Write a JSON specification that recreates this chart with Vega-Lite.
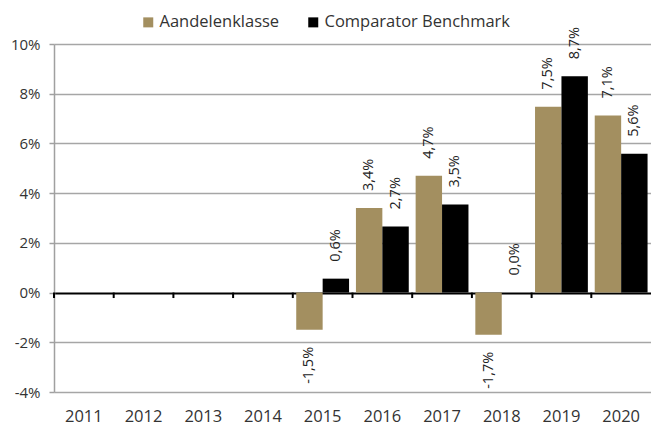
{
  "$schema": "https://vega.github.io/schema/vega-lite/v6.json",
  "width": 597,
  "height": 348,
  "autosize": {"type": "none"},
  "padding": {"left": 54, "top": 44, "right": 0, "bottom": 35},
  "config": {
    "locale": {"number": {"decimal": ",", "thousands": ".", "grouping": [3], "currency": ["€", ""], "minus": "-"}},
    "font": "Open Sans",
    "view": {"stroke": null}
  },
  "data": {
    "values": [
      {"year": "2015", "series": "Aandelenklasse", "value": -0.015},
      {"year": "2015", "series": "Comparator Benchmark", "value": 0.0056},
      {"year": "2016", "series": "Aandelenklasse", "value": 0.034},
      {"year": "2016", "series": "Comparator Benchmark", "value": 0.0266},
      {"year": "2017", "series": "Aandelenklasse", "value": 0.047},
      {"year": "2017", "series": "Comparator Benchmark", "value": 0.0354},
      {"year": "2018", "series": "Aandelenklasse", "value": -0.017},
      {"year": "2018", "series": "Comparator Benchmark", "value": 0.0},
      {"year": "2019", "series": "Aandelenklasse", "value": 0.0748},
      {"year": "2019", "series": "Comparator Benchmark", "value": 0.087},
      {"year": "2020", "series": "Aandelenklasse", "value": 0.0712},
      {"year": "2020", "series": "Comparator Benchmark", "value": 0.0558}
    ]
  },
  "encoding": {
    "x": {
      "field": "year",
      "type": "nominal",
      "scale": {
        "domain": ["2011", "2012", "2013", "2014", "2015", "2016", "2017", "2018", "2019", "2020"],
        "paddingInner": 0,
        "paddingOuter": 0
      },
      "axis": {
        "title": null,
        "labelAngle": 0,
        "domain": false,
        "ticks": false,
        "labelPadding": 16,
        "labelFontSize": 16.5,
        "labelColor": "#333333",
        "grid": false
      }
    }
  },
  "layer": [
    {
      "mark": {"type": "bar"},
      "encoding": {
        "xOffset": {
          "field": "series",
          "type": "nominal",
          "scale": {"paddingInner": 0, "paddingOuter": 0.13}
        },
        "y": {
          "field": "value",
          "type": "quantitative",
          "scale": {"domain": [-0.04, 0.1], "nice": false, "zero": false},
          "axis": {
            "title": null,
            "values": [-0.04, -0.02, 0, 0.02, 0.04, 0.06, 0.08, 0.1],
            "format": ".0%",
            "labelFontSize": 15,
            "labelColor": "#333333",
            "labelPadding": 9,
            "tickSize": 5,
            "tickColor": "#a0a0a0",
            "tickWidth": 1.5,
            "domainColor": "#a0a0a0",
            "domainWidth": 1.5,
            "grid": true,
            "gridColor": {"condition": {"test": "datum.value === 0", "value": "#000000"}, "value": "#a6a6a6"},
            "gridWidth": {"condition": {"test": "datum.value === 0", "value": 2}, "value": 1.5}
          }
        },
        "color": {
          "field": "series",
          "type": "nominal",
          "scale": {"domain": ["Aandelenklasse", "Comparator Benchmark"], "range": ["#a38f60", "#000000"]},
          "legend": {
            "title": null,
            "orient": "none",
            "direction": "horizontal",
            "legendX": 86,
            "legendY": -30,
            "symbolType": "square",
            "symbolSize": 100,
            "symbolStrokeWidth": 0,
            "labelFontSize": 16.5,
            "labelLimit": 0,
            "labelColor": "#333333",
            "labelOffset": 3,
            "columnPadding": 25
          }
        }
      }
    },
    {
      "data": {"values": [{"year": "2011"}, {"year": "2012"}, {"year": "2013"}, {"year": "2014"}, {"year": "2015"}, {"year": "2016"}, {"year": "2017"}, {"year": "2018"}, {"year": "2019"}, {"year": "2020"}]},
      "mark": {"type": "rule", "color": "#000000", "strokeWidth": 2},
      "encoding": {
        "x": {"field": "year", "type": "nominal", "bandPosition": 0},
        "y": {"datum": 0},
        "y2": {"datum": -0.0022}
      }
    },
    {
      "transform": [{"filter": "datum.value >= 0"}],
      "mark": {"type": "text", "angle": 270, "align": "left", "baseline": "middle", "dx": 17, "fontSize": 14.5, "color": "#222222"},
      "encoding": {
        "xOffset": {"field": "series", "type": "nominal"},
        "y": {"field": "value", "type": "quantitative"},
        "text": {"field": "value", "type": "quantitative", "format": ".1%"}
      }
    },
    {
      "transform": [{"filter": "datum.value < 0"}],
      "mark": {"type": "text", "angle": 270, "align": "right", "baseline": "middle", "dx": -17, "fontSize": 14.5, "color": "#222222"},
      "encoding": {
        "xOffset": {"field": "series", "type": "nominal"},
        "y": {"field": "value", "type": "quantitative"},
        "text": {"field": "value", "type": "quantitative", "format": ".1%"}
      }
    }
  ]
}
